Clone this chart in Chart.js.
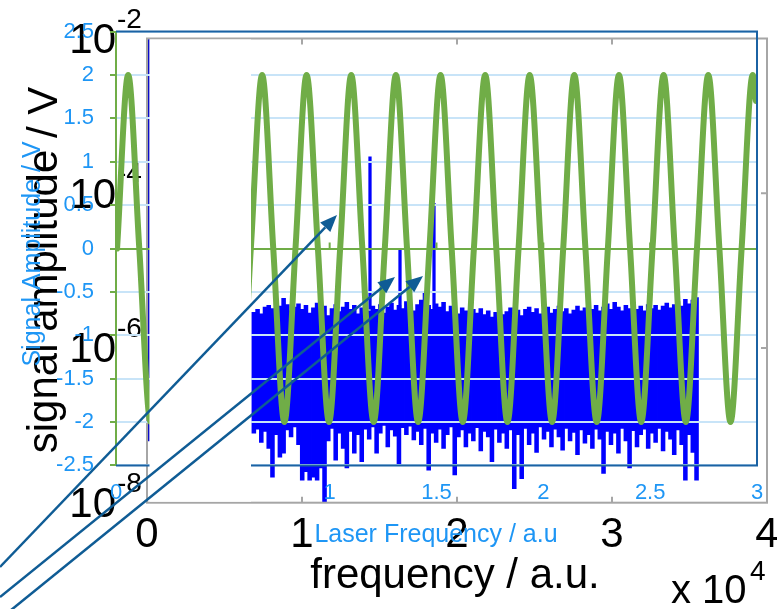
<!DOCTYPE html>
<html>
<head>
<meta charset="utf-8">
<script src="https://cdn.jsdelivr.net/npm/chart.js@4.4.0/dist/chart.umd.min.js"></script>
<style>
  body { margin: 0; background: #fff; }
  #wrap { position: relative; width: 777px; height: 609px; overflow: hidden; }
  canvas { position: absolute; left: 0; top: 0; }
</style>
</head>
<body>
<div id="wrap">
  <canvas id="spectrum" width="777" height="609"></canvas>
  <canvas id="signal" width="777" height="609"></canvas>
</div>
<script>
// SPECTRUM (back plot): frequency in a.u., amplitude stored as log10(V)
const binStart = 6894;
const binStep = 240;
const noiseTop = [
  -5.54, -5.50, -5.56, -5.47, -5.45, -5.49, -5.42, -5.46, -5.36, -5.44,
  -5.52, -5.47, -5.43, -5.50, -5.45, -5.55, -5.48, -5.42, -5.51, -5.46,
  -5.58, -5.49, -5.44, -5.53, -5.47, -5.41, -5.50, -5.45, -5.56, -5.48,
  -5.43, -5.52, -5.46, -5.50, -5.44, -5.55, -5.47, -5.42, -5.51, -5.45,
  -5.49, -5.40, -5.46, -5.52, -5.44, -5.38, -5.28, -5.45, -5.50, -5.43,
  -5.47, -5.41, -5.53, -5.46, -5.50, -5.56, -5.48, -5.52, -5.58, -5.50,
  -5.55, -5.49, -5.57, -5.52, -5.60, -5.54, -5.50, -5.57, -5.53, -5.48,
  -5.55, -5.51, -5.58, -5.50, -5.47, -5.54, -5.49, -5.56, -5.52, -5.47,
  -5.55, -5.50, -5.46, -5.53, -5.49, -5.56, -5.51, -5.46, -5.52, -5.48,
  -5.55, -5.50, -5.45, -5.52, -5.47, -5.43, -5.50, -5.41, -5.47, -5.52,
  -5.45, -5.49, -5.43, -5.50, -5.46, -5.52, -5.44, -5.49, -5.45, -5.51,
  -5.46, -5.42, -5.48, -5.44, -5.40, -5.46, -5.37, -5.43, -5.38, -5.35
];
const noiseBottom = [
  -7.10, -7.05, -7.22, -7.08, -7.30, -7.67, -7.12, -7.41, -7.36, -7.06,
  -7.15, -7.02, -7.25, -7.71, -7.60, -7.71, -7.67, -7.71, -7.55, -8.05,
  -7.20, -7.04, -7.45, -7.10, -7.30, -7.55, -7.08, -7.36, -7.12, -7.47,
  -7.05, -7.18, -7.02, -7.36, -7.10, -7.00, -7.28, -7.06, -7.14, -7.50,
  -7.03, -7.12, -7.01, -7.19, -7.08, -7.25, -7.04, -7.58, -7.10, -7.22,
  -7.05, -7.30, -7.12, -7.02, -7.64, -7.15, -7.06, -7.28, -7.10, -7.20,
  -7.03, -7.33, -7.08, -7.15, -7.47, -7.05, -7.22, -7.10, -7.30, -7.06,
  -7.82, -7.12, -7.69, -7.04, -7.25, -7.10, -7.35, -7.02, -7.18, -7.08,
  -7.28, -7.05, -7.15, -7.32, -7.04, -7.20, -7.09, -7.38, -7.06, -7.23,
  -7.12, -7.30, -7.05, -7.18, -7.62, -7.08, -7.25, -7.10, -7.36, -7.04,
  -7.20, -7.55, -7.07, -7.28, -7.12, -7.05, -7.30, -7.10, -7.22, -7.04,
  -7.33, -7.08, -7.18, -7.38, -7.06, -7.25, -7.71, -7.12, -7.35, -7.71
];
// DC component and the three laser lines
const dcFreq = [60];
const dcTop = [-2];
const dcBottom = [-7.2];
const lineFreq = [14387, 16323, 18516];
const lineTop = [-3.53, -4.73, -4.13];
const lineBottom = [-5.5, -5.5, -5.5];

const specXTicks = [0, 10000, 20000, 30000, 40000];
const specXLabels = ["0", "1", "2", "3", "4"];
const specYTicks = [1e-2, 1e-4, 1e-6, 1e-8];
const specYExp = ["-2", "-4", "-6", "-8"];

// SIGNAL (front plot): laser frequency vs signal amplitude
const waveX = [
  0.005, 0.057, 0.109, 0.162, 0.214, 0.266, 0.318, 0.370, 0.423, 0.475,
  0.527, 0.579, 0.631, 0.684, 0.736, 0.788, 0.840, 0.892, 0.945, 0.997,
  1.049, 1.101, 1.153, 1.206, 1.258, 1.310, 1.362, 1.414, 1.467, 1.519,
  1.571, 1.623, 1.675, 1.728, 1.780, 1.832, 1.884, 1.936, 1.989, 2.041,
  2.093, 2.145, 2.197, 2.250, 2.302, 2.354, 2.406, 2.458, 2.511, 2.563,
  2.615, 2.667, 2.719, 2.772, 2.824, 2.876, 2.928, 2.980, 2.995
];
const waveY = [
  0, 2, 0, -2, 0, 2, 0, -2, 0, 2,
  0, -2, 0, 2, 0, -2, 0, 2, 0, -2,
  0, 2, 0, -2, 0, 2, 0, -2, 0, 2,
  0, -2, 0, 2, 0, -2, 0, 2, 0, -2,
  0, 2, 0, -2, 0, 2, 0, -2, 0, 2,
  0, -2, 0, 2, 0, -2, 0, 2, 1.7
];

const FONT = '"Liberation Sans", Arial, Helvetica, sans-serif';
const GREEN = "#70ad47";
const LABEL_BLUE = "#1e96f5";
const GRID_BLUE = "#c8e4f8";
const FRAME_BLUE = "#1b62a3";
const ARROW_BLUE = "#0f5c95";

// ---- back plot: log spectrum ----
const spectrumFrame = {
  id: "spectrumFrame",
  afterDraw(chart) {
    const { ctx, chartArea: a, scales } = chart;
    const x = scales.x, y = scales.y;
    ctx.save();
    ctx.strokeStyle = "#a6a6a6";
    ctx.lineWidth = 2;
    ctx.strokeRect(a.left, a.top, a.right - a.left, a.bottom - a.top);
    ctx.beginPath();
    specXTicks.slice(1, -1).forEach((v) => {
      const px = x.getPixelForValue(v);
      ctx.moveTo(px, a.top); ctx.lineTo(px, a.top + 6);
      ctx.moveTo(px, a.bottom); ctx.lineTo(px, a.bottom - 6);
    });
    specYTicks.slice(1, -1).forEach((v) => {
      const py = y.getPixelForValue(v);
      ctx.moveTo(a.right, py); ctx.lineTo(a.right - 6, py);
    });
    ctx.stroke();

    ctx.fillStyle = "#000";
    ctx.textBaseline = "alphabetic";
    ctx.font = "42px " + FONT;
    ctx.textAlign = "center";
    specXTicks.forEach((v, i) => {
      ctx.fillText(specXLabels[i], x.getPixelForValue(v), a.bottom + 44);
    });
    specYTicks.forEach((v, i) => {
      const py = y.getPixelForValue(v);
      ctx.font = "42px " + FONT;
      ctx.textAlign = "right";
      ctx.fillText("10", a.left - 31, py + 14.5);
      ctx.font = "28px " + FONT;
      ctx.textAlign = "left";
      ctx.fillText(specYExp[i], a.left - 30, py - 11);
    });

    ctx.font = "42px " + FONT;
    ctx.textAlign = "center";
    ctx.fillText("frequency / a.u.", 455, 588);
    ctx.font = "40px " + FONT;
    ctx.textAlign = "left";
    ctx.fillText("x 10", 671, 603);
    ctx.font = "28px " + FONT;
    ctx.fillText("4", 750, 580);

    ctx.translate(57, 270);
    ctx.rotate(-Math.PI / 2);
    ctx.font = "42px " + FONT;
    ctx.textAlign = "center";
    ctx.fillText("signal amplitude / V", 0, 0);
    ctx.restore();
  }
};

new Chart(document.getElementById("spectrum"), {
  type: "bar",
  data: {
    datasets: [
      {
        data: noiseTop.map((t, i) => ({ x: binStart + i * binStep, y: [10 ** noiseBottom[i], 10 ** t] })),
        backgroundColor: "#0000ff",
        barThickness: 3.9,
        grouped: false,
        borderWidth: 0
      },
      {
        data: lineFreq.map((f, i) => ({ x: f, y: [10 ** lineBottom[i], 10 ** lineTop[i]] })),
        backgroundColor: "#0000ff",
        barThickness: 2.6,
        grouped: false,
        borderWidth: 0
      },
      {
        data: dcFreq.map((f, i) => ({ x: f, y: [10 ** dcBottom[i], 10 ** dcTop[i]] })),
        backgroundColor: "#0a0ac8",
        barThickness: 3,
        grouped: false,
        borderWidth: 0
      }
    ]
  },
  options: {
    responsive: false,
    animation: false,
    devicePixelRatio: 1,
    events: [],
    layout: { padding: { left: 147, right: 10, top: 38.5, bottom: 106.3 } },
    plugins: { legend: { display: false }, tooltip: { enabled: false } },
    scales: {
      x: { type: "linear", min: 0, max: 40000, offset: false, display: false },
      y: { type: "logarithmic", min: 1e-8, max: 1e-2, stacked: false, display: false }
    }
  },
  plugins: [spectrumFrame]
});

// ---- front plot: signal ----
function arrow(ctx, x0, y0, x1, y1) {
  const ang = Math.atan2(y1 - y0, x1 - x0);
  const L = 17, W = 7;
  const bx = x1 - L * Math.cos(ang), by = y1 - L * Math.sin(ang);
  ctx.beginPath();
  ctx.moveTo(x0, y0);
  ctx.lineTo(bx, by);
  ctx.stroke();
  ctx.beginPath();
  ctx.moveTo(x1, y1);
  ctx.lineTo(bx + W * Math.sin(ang), by - W * Math.cos(ang));
  ctx.lineTo(bx - W * Math.sin(ang), by + W * Math.cos(ang));
  ctx.closePath();
  ctx.fill();
}

const signalFrame = {
  id: "signalFrame",
  beforeDatasetsDraw(chart) {
    const { ctx, scales } = chart;
    const y0 = scales.y.getPixelForValue(0);
    ctx.save();
    ctx.strokeStyle = GREEN;
    ctx.lineWidth = 2;
    ctx.beginPath();
    [0.5, 1, 1.5, 2, 2.5].forEach((v) => {
      const px = scales.x.getPixelForValue(v);
      ctx.moveTo(px, y0); ctx.lineTo(px, y0 - 6);
    });
    ctx.stroke();
    ctx.restore();
  },
  afterDatasetsDraw(chart) {
    const { ctx, chartArea: a } = chart;
    ctx.save();
    ctx.strokeStyle = FRAME_BLUE;
    ctx.lineWidth = 2;
    ctx.beginPath();
    ctx.moveTo(a.left, a.top);
    ctx.lineTo(a.right, a.top);
    ctx.lineTo(a.right, a.bottom);
    ctx.lineTo(a.left, a.bottom);
    ctx.stroke();
    ctx.restore();
  },
  afterDraw(chart) {
    const { ctx } = chart;
    ctx.save();
    ctx.fillStyle = LABEL_BLUE;
    ctx.textBaseline = "alphabetic";
    ctx.font = "25px " + FONT;
    ctx.textAlign = "center";
    ctx.fillText("Laser Frequency / a.u", 436, 542);
    ctx.save();
    ctx.translate(40, 254);
    ctx.rotate(-Math.PI / 2);
    ctx.fillText("Signal Amplitude / V", 0, 0);
    ctx.restore();

    // white patch left over from the pasted spectrum figure
    ctx.fillStyle = "#fff";
    ctx.fillRect(149.5, 39.5, 101.5, 462.2);

    ctx.strokeStyle = ARROW_BLUE;
    ctx.fillStyle = ARROW_BLUE;
    ctx.lineWidth = 2.5;
    arrow(ctx, 0, 567, 337, 215);
    arrow(ctx, 0, 597, 395, 277);
    arrow(ctx, 0, 619, 423, 276);
    ctx.restore();
  }
};

const shortNum = (v) => String(Math.round(v * 10) / 10);

new Chart(document.getElementById("signal"), {
  type: "line",
  data: {
    datasets: [{
      data: waveX.map((x, i) => ({ x: x, y: waveY[i] })),
      borderColor: GREEN,
      borderWidth: 6,
      borderCapStyle: "round",
      borderJoinStyle: "round",
      pointRadius: 0,
      fill: false,
      tension: 0.4,
      cubicInterpolationMode: "monotone"
    }]
  },
  options: {
    responsive: false,
    animation: false,
    devicePixelRatio: 1,
    events: [],
    layout: { padding: { left: 0, right: 20, top: 31.6, bottom: 103.6 } },
    plugins: { legend: { display: false }, tooltip: { enabled: false } },
    scales: {
      x: {
        type: "linear", min: 0, max: 3,
        grid: { display: false, drawTicks: false },
        border: { display: false },
        ticks: { stepSize: 0.5, color: LABEL_BLUE, font: { family: FONT, size: 22 }, padding: 14, maxRotation: 0, autoSkip: false, callback: shortNum },
        afterFit: (s) => { s.height = 40; s.paddingLeft = 0; s.paddingRight = 0; }
      },
      y: {
        min: -2.5, max: 2.5,
        grid: {
          color: (c) => (c.tick && c.tick.value === 0 ? GREEN : GRID_BLUE),
          lineWidth: 2,
          tickColor: GREEN,
          tickLength: 6,
          tickWidth: 2
        },
        border: { display: true, color: GREEN, width: 2 },
        ticks: { stepSize: 0.5, color: LABEL_BLUE, font: { family: FONT, size: 22 }, padding: 16, callback: shortNum },
        afterFit: (s) => { s.width = 116; s.paddingTop = 0; s.paddingBottom = 0; }
      }
    }
  },
  plugins: [signalFrame]
});
</script>
</body>
</html>
